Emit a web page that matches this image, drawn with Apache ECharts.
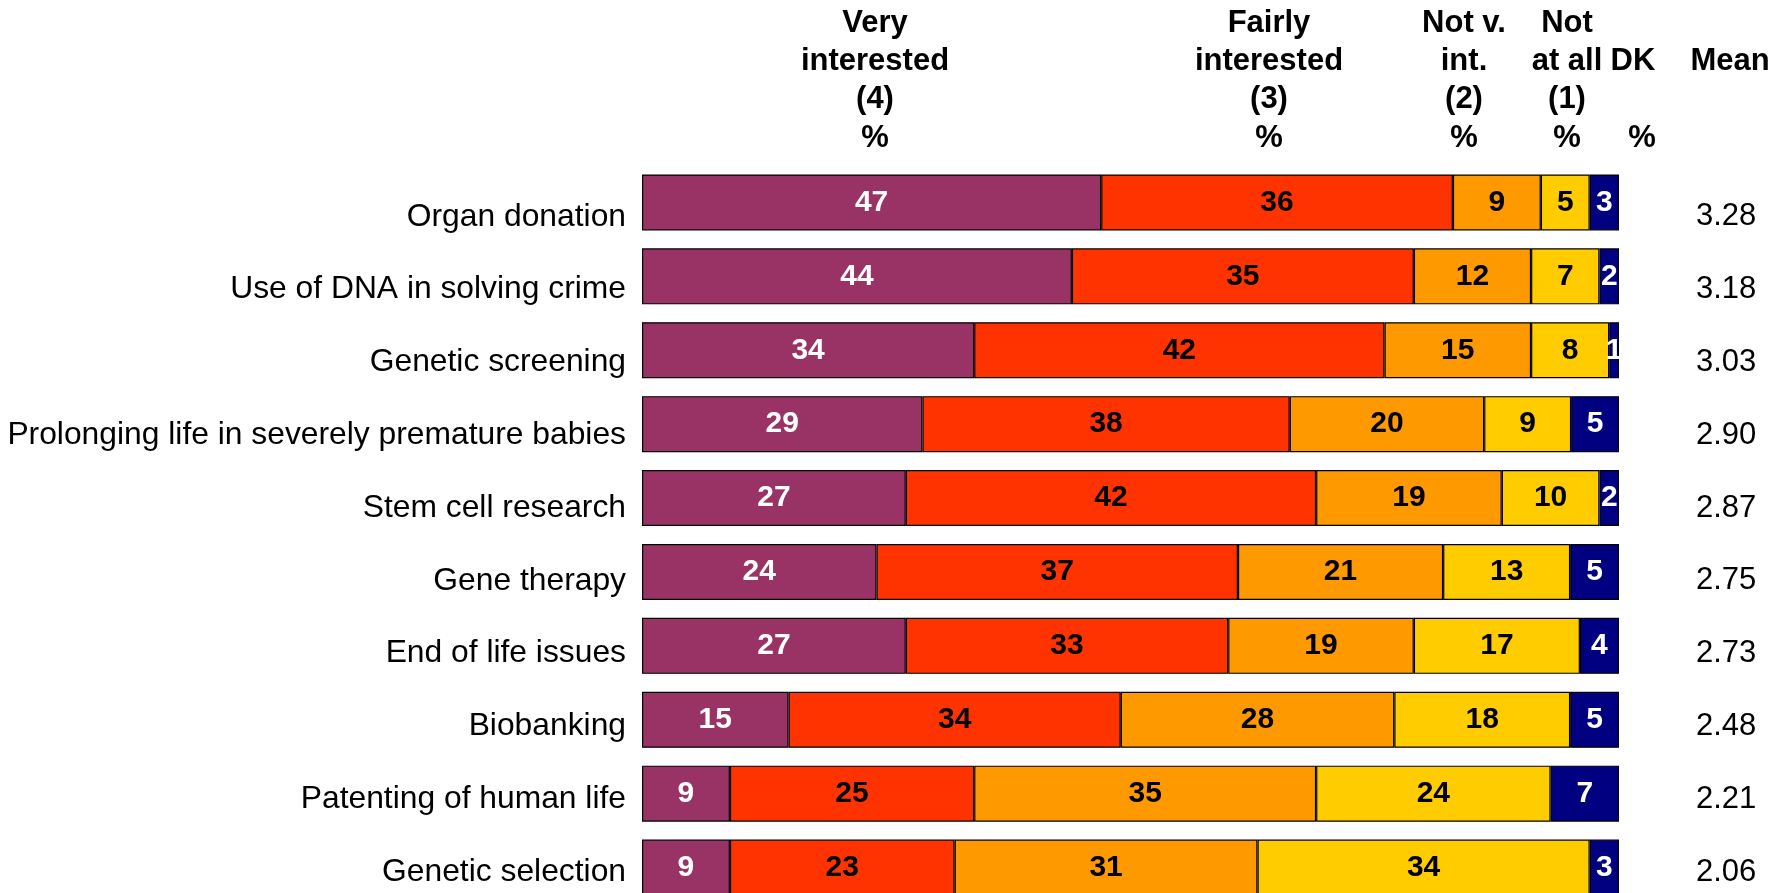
<!DOCTYPE html>
<html><head><meta charset="utf-8">
<script src="https://cdn.jsdelivr.net/npm/echarts@6/dist/echarts.min.js"></script>
<style>html,body{margin:0;padding:0;background:#fff;overflow:hidden}#c{width:1789px;height:930px}</style>
</head><body><div id="c"></div>
<script>
const categories = ["Organ donation","Use of DNA in solving crime","Genetic screening","Prolonging life in severely premature babies","Stem cell research","Gene therapy","End of life issues","Biobanking","Patenting of human life","Genetic selection"];
const veryInterested = [47,44,34,28.7,27,24,27,15,9,9];
const fairlyInterested = [36,35,42,37.6,42,37,33,34,25,23];
const notVeryInterested = [9,12,15,19.9,19,21,19,28,35,31];
const notAtAll = [5,7,8,8.9,10,13,17,18,24,34];
const dontKnow = [3,2,1,4.9,2,5,4,5,7,3];
const means = ["3.28","3.18","3.03","2.90","2.87","2.75","2.73","2.48","2.21","2.06"];
const seriesNames = ["Very interested (4)","Fairly interested (3)","Not v. int. (2)","Not at all (1)","DK"];
const colors = ["#993366","#FF3300","#FF9900","#FFCC00","#000080"];
const labelColors = ["#ffffff","#000000","#000000","#000000","#ffffff"];
const headers = [
  {lines:["Very","interested","(4)","%"], x:875},
  {lines:["Fairly","interested","(3)","%"], x:1269},
  {lines:["Not v.","int.","(2)","%"], x:1464},
  {lines:["Not","at all","(1)","%"], x:1567}
];
const dataSets = [veryInterested,fairlyInterested,notVeryInterested,notAtAll,dontKnow];

const chart = echarts.init(document.getElementById('c'));
const lineY = [23,61,99,138];
const hFont = 'bold 31px "Liberation Sans", Arial, sans-serif';
const graphics = [];
function addText(t,x,y){
  graphics.push({type:'text',style:{text:t,x:x,y:y,textAlign:'center',textVerticalAlign:'middle',font:hFont,fill:'#000'}});
}
headers.forEach(h=>h.lines.forEach((t,i)=>addText(t,h.x,lineY[i])));
addText('DK',1633,lineY[1]);
addText('%',1642,lineY[3]);
addText('Mean',1730,lineY[1]);

chart.setOption({
  animation:false,
  textStyle:{fontFamily:'"Liberation Sans", Arial, sans-serif'},
  grid:[
    {left:642,top:165.5,width:977,height:739,containLabel:false},
    {left:642,top:180.5,width:977,height:728,containLabel:false}
  ],
  xAxis:[
    {type:'value',min:0,max:100,show:false,gridIndex:0},
    {type:'value',min:0,max:100,show:false,gridIndex:1}
  ],
  yAxis:[
    {type:'category',data:categories,inverse:true,gridIndex:0,show:false},
    {type:'category',data:categories,inverse:true,gridIndex:1,position:'left',axisLine:{show:false},axisTick:{show:false},
     axisLabel:{fontSize:31.8,color:'#000',margin:16}},
    {type:'category',data:means,inverse:true,gridIndex:1,position:'right',axisLine:{show:false},axisTick:{show:false},
     axisLabel:{fontSize:31,color:'#000',margin:77,align:'left'}}
  ],
  series: dataSets.map((d,i)=>({
    name:seriesNames[i],type:'bar',stack:'all',barWidth:56,data:d,xAxisIndex:0,yAxisIndex:0,
    itemStyle:{color:colors[i],borderColor:'#000',borderWidth:1.2},
    label:{show:true,position:'inside',formatter:p=>Math.round(p.value),color:labelColors[i],fontSize:30,fontWeight:'bold'}
  })),
  graphic:graphics
});
</script></body></html>
